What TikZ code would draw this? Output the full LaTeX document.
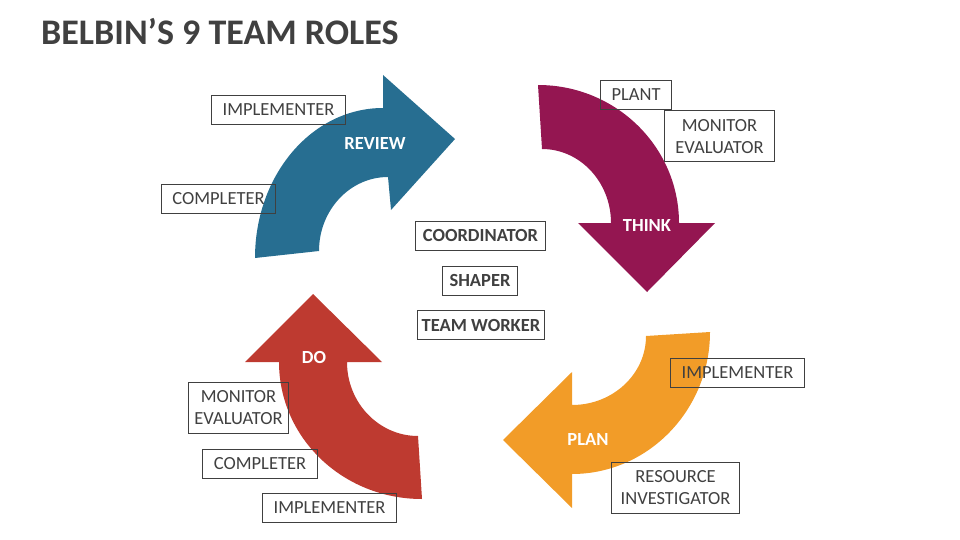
\documentclass[tikz,border=0pt]{standalone}
\usepackage{fontspec}
\setmainfont{Carlito}
\definecolor{textgray}{RGB}{64,64,64}
\definecolor{reviewblue}{RGB}{39,110,145}
\definecolor{thinkred}{RGB}{148,22,81}
\definecolor{planorange}{RGB}{242,156,40}
\definecolor{dored}{RGB}{190,58,48}
\begin{document}
\begin{tikzpicture}[x=1pt,y=-1pt,
   role/.style={draw=textgray,line width=1pt,text=textgray,align=center,
     font=\fontsize{18.5}{21.5}\selectfont,inner xsep=11pt,minimum height=29pt},
   tworole/.style={role,minimum height=51pt},
   keyrole/.style={role,inner xsep=7pt,font=\fontsize{18.5}{21.5}\selectfont\bfseries},
   stage/.style={text=white,font=\fontsize{18.5}{21.5}\selectfont\bfseries}]
   \useasboundingbox (0,0) rectangle (960,540);
   \node[anchor=base west,inner sep=0pt,text=textgray,font=\fontsize{36}{40}\selectfont\bfseries]
   (title) at (41,45) {BELBIN’S 9 TEAM ROLES};

   \fill[reviewblue] (255,258) .. controls (255,175) and (312,108) .. (383,108) --
   (383,75) -- (455,139) -- (391,210) --
   (388,177) .. controls (350,177) and (319,210) .. (319,251) -- cycle;
   \fill[thinkred] (538,85) .. controls (616,85) and (679,147) .. (679,223) --
   (715,223) -- (647,292) -- (578,223) --
   (611,223) .. controls (611,182) and (580,149) .. (542,149) -- cycle;
   \fill[planorange] (710,332) .. controls (710,410) and (648,474) .. (572,474) --
   (572,508) -- (503,440) -- (572,372) --
   (572,405) .. controls (613,405) and (646,374) .. (646,336) -- cycle;
   \fill[dored] (313,294) -- (382,362) --
   (347,362) .. controls (347,403) and (379,436) .. (418,436) --
   (422,499) .. controls (343,499) and (279,438) .. (279,362) -- (245,362) -- cycle;

   \node[stage] (review) at (375,144) {REVIEW};
   \node[stage] (think) at (647,226) {THINK};
   \node[stage] (plan) at (588,439) {PLAN};
   \node[stage] (do) at (314,357) {DO};

   \node[role] (reviewimpl) at (278.5,110) {IMPLEMENTER};
   \node[role] (reviewcomp) at (218.5,198.5) {COMPLETER};
   \node[role] (thinkplant) at (636,95) {PLANT};
   \node[tworole] (thinkmon) at (719.5,136.5) {MONITOR\\EVALUATOR};
   \node[role] (planimpl) at (737.5,372.5) {IMPLEMENTER};
   \node[tworole,inner xsep=9pt] (planres) at (675.5,487.5) {RESOURCE\\INVESTIGATOR};
   \node[tworole,inner xsep=6pt] (domon) at (238.5,407.5) {MONITOR\\EVALUATOR};
   \node[role] (docomp) at (260,463.5) {COMPLETER};
   \node[role] (doimpl) at (329.5,508) {IMPLEMENTER};

   \node[keyrole] (coord) at (480.5,235.5) {COORDINATOR};
   \node[keyrole] (shaper) at (480,280.5) {SHAPER};
   \node[keyrole,inner xsep=4pt] (teamw) at (481,325) {TEAM WORKER};
\end{tikzpicture}
\end{document}
